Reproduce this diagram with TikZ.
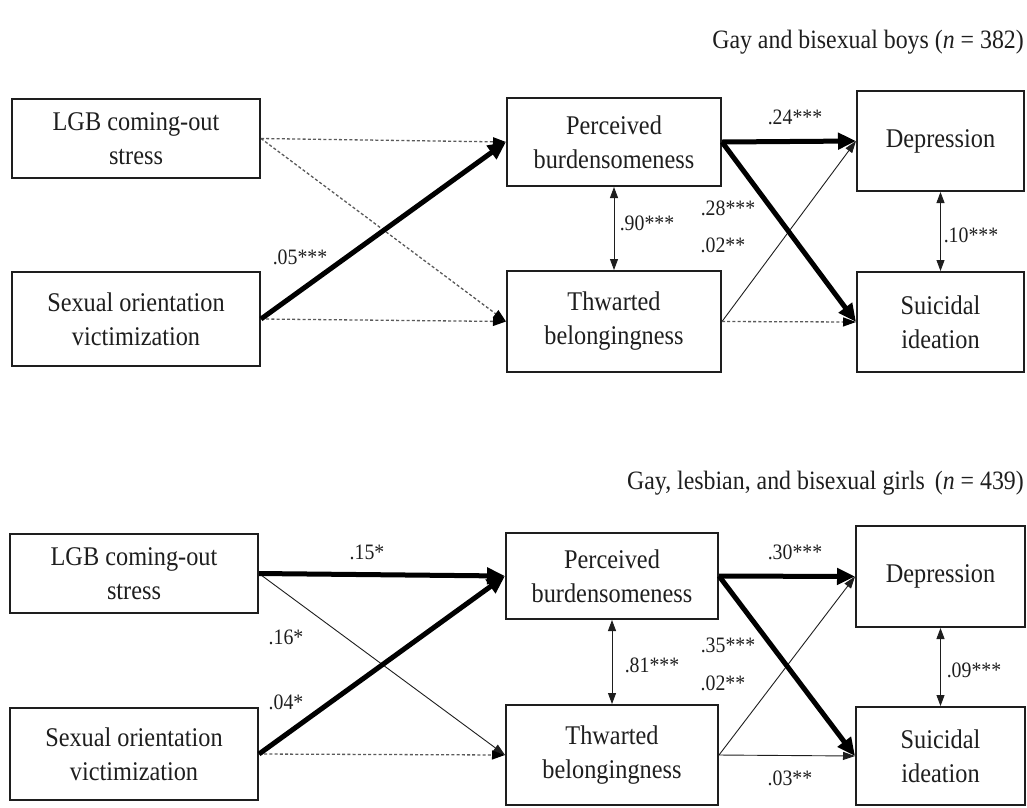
\documentclass[tikz,border=0pt]{standalone}
\usepackage{fontspec}
\setmainfont{Liberation Serif}[FakeStretch=0.9]
\usetikzlibrary{arrows.meta}
\definecolor{ink}{HTML}{1E1E1E}
\definecolor{dotgray}{HTML}{5A5A5A}
\tikzset{
  box/.style={draw=ink, line width=2pt, fill=white, align=center, text=ink,
    font=\fontsize{27}{34}\selectfont, inner sep=0pt},
  lbl/.style={text=ink, font=\fontsize{22}{26}\selectfont, inner sep=0pt},
  ttl/.style={text=ink, font=\fontsize{26.5}{30}\selectfont, inner sep=0pt, anchor=east},
  thick path/.style={draw=black, line width=5pt, -{Triangle[length=18pt,width=16pt]}},
  thin path/.style={draw=ink, line width=0.9pt, -{Triangle[length=12pt,width=8pt]}},
  dot path/.style={draw=dotgray, line width=1.3pt, dash pattern=on 3pt off 2.2pt,
    -{Triangle[length=13pt,width=9pt,fill=black,color=black]}},
  dbl path/.style={draw=ink, line width=0.9pt, {Triangle[length=11pt,width=8pt]}-{Triangle[length=11pt,width=8pt]}}
}
\begin{document}
\begin{tikzpicture}[x=1pt,y=-1pt]
\useasboundingbox (0,0) rectangle (1027,807);
% ---------- top panel ----------
\node[ttl] (t1) at (1024,42) {Gay and bisexual boys (\textit{n} = 382)};
\node[box, minimum width=248pt, minimum height=79pt] (lgb1) at (136,138.5) {LGB coming-out\\stress};
\node[box, minimum width=248pt, minimum height=94pt] (sov1) at (136,319) {Sexual orientation\\victimization};
\node[box, minimum width=214pt, minimum height=88pt] (pb1) at (614,142) {Perceived\\burdensomeness};
\node[box, minimum width=214pt, minimum height=101pt] (tb1) at (614,321.5) {Thwarted\\belongingness};
\node[box, minimum width=167pt, minimum height=100pt] (dep1) at (940.5,141) {Depression};
\node[box, minimum width=167pt, minimum height=100pt] (si1) at (940.5,322) {Suicidal\\ideation};

\draw[dot path] (lgb1.east) -- (pb1.west);
\draw[dot path] (lgb1.east) -- (tb1.west);
\draw[dot path] (sov1.east) -- (tb1.west);
\draw[thick path] (sov1.east) -- (pb1.west);
\draw[thin path] (tb1.east) -- (dep1.west);
\draw[dot path] (tb1.east) -- (si1.west);
\draw[thick path] (pb1.east) -- (dep1.west);
\draw[thick path] (pb1.east) -- (si1.west);
\draw[dbl path] (pb1.south) -- (tb1.north);
\draw[dbl path] (dep1.south) -- (si1.north);

\node[lbl] (l05) at (300,257) {.05***};
\node[lbl] (l24) at (795,117) {.24***};
\node[lbl] (l28) at (728,208) {.28***};
\node[lbl] (l02a) at (723,245) {.02**};
\node[lbl] (l90) at (647,223) {.90***};
\node[lbl] (l10) at (971,235) {.10***};

% ---------- bottom panel ----------
\node[ttl] (t2) at (1024,483) {Gay, lesbian, and bisexual girls\hspace{0.15em} (\textit{n} = 439)};
\node[box, minimum width=248pt, minimum height=79pt] (lgb2) at (134,573.5) {LGB coming-out\\stress};
\node[box, minimum width=248pt, minimum height=92pt] (sov2) at (134,754) {Sexual orientation\\victimization};
\node[box, minimum width=212pt, minimum height=86pt] (pb2) at (612,576) {Perceived\\burdensomeness};
\node[box, minimum width=212pt, minimum height=100pt] (tb2) at (612,755) {Thwarted\\belongingness};
\node[box, minimum width=169pt, minimum height=101pt] (dep2) at (940.5,576.5) {Depression};
\node[box, minimum width=169pt, minimum height=98pt] (si2) at (940.5,756) {Suicidal\\ideation};

\draw[thin path] (lgb2.east) -- (tb2.west);
\draw[dot path] (sov2.east) -- (tb2.west);
\draw[thick path] (lgb2.east) -- (pb2.west);
\draw[thick path] (sov2.east) -- (pb2.west);
\draw[thin path] (tb2.east) -- (dep2.west);
\draw[thin path] (tb2.east) -- (si2.west);
\draw[thick path] (pb2.east) -- (dep2.west);
\draw[thick path] (pb2.east) -- (si2.west);
\draw[dbl path] (pb2.south) -- (tb2.north);
\draw[dbl path] (dep2.south) -- (si2.north);

\node[lbl] (l15) at (367,552) {.15*};
\node[lbl] (l16) at (286,637) {.16*};
\node[lbl] (l04) at (286,702) {.04*};
\node[lbl] (l30) at (795,552) {.30***};
\node[lbl] (l35) at (728,645) {.35***};
\node[lbl] (l02b) at (723,683) {.02**};
\node[lbl] (l81) at (652,665) {.81***};
\node[lbl] (l03) at (790,778) {.03**};
\node[lbl] (l09) at (974,670) {.09***};
\end{tikzpicture}
\end{document}
